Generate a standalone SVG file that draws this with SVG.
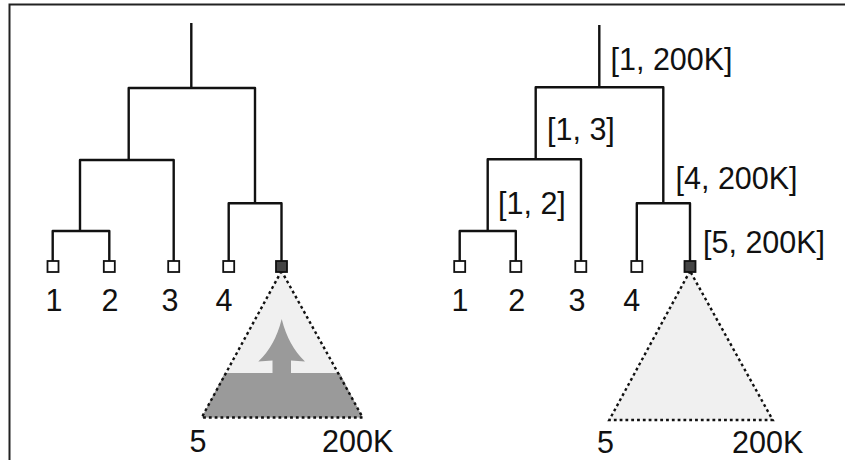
<svg xmlns="http://www.w3.org/2000/svg" width="845" height="460" viewBox="0 0 845 460">
<style>
  .frame{fill:none;stroke:#222;stroke-width:2}
  .edge{fill:none;stroke:#111;stroke-width:2.4;stroke-linejoin:round}
  .leaf{fill:#fff;stroke:#111;stroke-width:1.8}
  .leaf.sel{fill:#444}
  .tri{fill:#f0f0f0;stroke:none}
  .triline{fill:none;stroke:#111;stroke-width:2.4;stroke-dasharray:2.8 3}
  .dark{fill:#9a9a9a}
  text{font-family:"Liberation Sans",Arial,sans-serif;font-size:30.5px;fill:#111}
  .c{text-anchor:middle}
</style>
<rect class="frame" x="9.5" y="4.5" width="900" height="500"/>

<!-- Left tree -->
<g id="left-tree">
  <g id="connectors-left">
    <path class="edge" d="M191.3,23 V88 M128.7,160 V88 H255 V203.3 M80,231 V160 H173.7 V266 M52.7,266 V231 H109.3 V266 M228.7,266 V203.3 H281.5 V266"/>
  </g>
  <g id="L-subtree">
    <path class="tri" d="M281.5,271 L201.7,417.5 L362.7,417.5 Z"/>
    <path class="dark" d="M224.7,373 L339.7,373 L362.7,417.5 L201.7,417.5 Z"/>
    <path class="dark" d="M281.7,319 Q275,346 258.3,361.5 L272.5,360.5 L272.5,374 L291,374 L291,360.5 L305,361.5 Q288.5,346 281.7,319 Z"/>
    <path class="triline" d="M281.5,271 L201.7,417.5 L362.7,417.5 Z"/>
    <text x="189.5" y="452">5</text>
    <text x="322" y="452">200K</text>
  </g>
  <g id="L-leaf1"><rect class="leaf" x="47.5" y="261" width="11" height="11"/><text class="c" x="54" y="311">1</text></g>
  <g id="L-leaf2"><rect class="leaf" x="103.8" y="261" width="11" height="11"/><text class="c" x="110" y="311">2</text></g>
  <g id="L-leaf3"><rect class="leaf" x="168.2" y="261" width="11" height="11"/><text class="c" x="170" y="311">3</text></g>
  <g id="L-leaf4"><rect class="leaf" x="223.2" y="261" width="11" height="11"/><text class="c" x="224" y="311">4</text></g>
  <g id="L-leaf5"><rect class="leaf sel" x="276" y="261" width="11" height="11"/></g>
</g>

<!-- Right tree -->
<g id="right-tree">
  <g id="connectors-right">
    <path class="edge" d="M599.3,25 V87.3 M535.7,159.3 V87.3 H663.3 V203.3 M487.7,231 V159.3 H581 V266 M459.7,266 V231 H515.8 V266 M636.8,266 V203.3 H690 V266"/>
  </g>
  <g id="R-subtree">
    <path class="tri" d="M690,271 L609.3,420 L772.7,420 Z"/>
    <path class="triline" d="M690,271 L609.3,420 L772.7,420 Z"/>
    <text x="597" y="452.5">5</text>
    <text x="732" y="452.5">200K</text>
  </g>
  <g id="R-leaf1"><rect class="leaf" x="454.2" y="261" width="11" height="11"/><text class="c" x="460" y="311">1</text></g>
  <g id="R-leaf2"><rect class="leaf" x="510.3" y="261" width="11" height="11"/><text class="c" x="516.7" y="311">2</text></g>
  <g id="R-leaf3"><rect class="leaf" x="575.3" y="261" width="11" height="11"/><text class="c" x="577" y="311">3</text></g>
  <g id="R-leaf4"><rect class="leaf" x="631.3" y="261" width="11" height="11"/><text class="c" x="631.7" y="311">4</text></g>
  <g id="R-leaf5"><rect class="leaf sel" x="684.5" y="261" width="11" height="11"/></g>
  <g id="labels">
    <text x="610.5" y="69.5">[1, 200K]</text>
    <text x="547" y="139.5">[1, 3]</text>
    <text x="675.5" y="188.5">[4, 200K]</text>
    <text x="498" y="213.5">[1, 2]</text>
    <text x="703" y="253">[5, 200K]</text>
  </g>
</g>
</svg>
